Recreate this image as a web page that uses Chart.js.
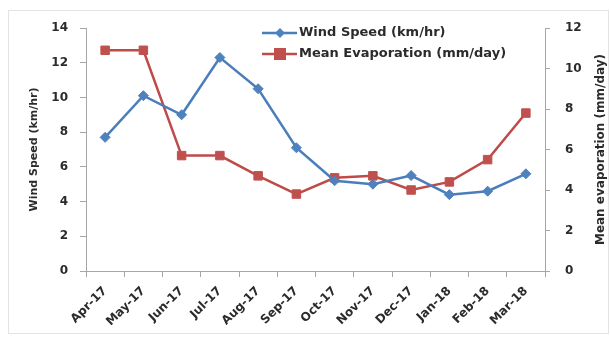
<!DOCTYPE html>
<html>
<head>
<meta charset="utf-8">
<title>Wind speed and evaporation</title>
<script src="https://cdn.jsdelivr.net/npm/chart.js@4.4.1/dist/chart.umd.min.js"></script>
<style>
  body { margin: 0; background: #fff; }
  #wrap { width: 610px; height: 338px; }
</style>
</head>
<body>
<div id="wrap"><canvas id="lineChart" width="610" height="338"></canvas></div>
<script>
// monthly data, Apr-17 to Mar-18
const months = ['Apr-17', 'May-17', 'Jun-17', 'Jul-17', 'Aug-17', 'Sep-17',
                'Oct-17', 'Nov-17', 'Dec-17', 'Jan-18', 'Feb-18', 'Mar-18'];
const windSpeed = [7.7, 10.1, 9.0, 12.3, 10.5, 7.1, 5.2, 5.0, 5.5, 4.4, 4.6, 5.6];
const evaporation = [10.9, 10.9, 5.7, 5.7, 4.7, 3.8, 4.6, 4.7, 4.0, 4.4, 5.5, 7.8];
const windTicks = [0, 2, 4, 6, 8, 10, 12, 14];
const evapTicks = [0, 2, 4, 6, 8, 10, 12];

const blue = '#4F81BD';
const red = '#C0504D';
const axisGrey = '#a6a6a6';
const textColor = '#2b2b2b';
const font = "'DejaVu Sans', sans-serif";

// light frame around the whole chart
const framePlugin = {
    id: 'frame',
    beforeDraw(chart) {
        const c = chart.ctx;
        c.save();
        c.fillStyle = '#fff';
        c.fillRect(0, 0, chart.width, chart.height);
        c.strokeStyle = '#e3e3e3';
        c.lineWidth = 1;
        c.strokeRect(8.5, 10.5, 600, 323);
        c.restore();
    }
};

function drawMarker(c, style, x, y, r, color) {
    c.fillStyle = color;
    c.beginPath();
    if (style === 'rect') {
        c.rect(x - r, y - r, r * 2, r * 2);
    } else {
        c.moveTo(x, y - r);
        c.lineTo(x + r, y);
        c.lineTo(x, y + r);
        c.lineTo(x - r, y);
        c.closePath();
    }
    c.fill();
}

// legend sits inside the plot area, plus right axis title reading upwards
const overlayPlugin = {
    id: 'overlay',
    afterDraw(chart) {
        const c = chart.ctx;
        c.save();
        chart.data.datasets.forEach((ds, i) => {
            const y = 33 + i * 21;
            c.strokeStyle = ds.borderColor;
            c.lineWidth = 2.5;
            c.beginPath();
            c.moveTo(262, y);
            c.lineTo(297, y);
            c.stroke();
            drawMarker(c, ds.pointStyle, 280, y, ds.pointRadius, ds.pointBackgroundColor);
            c.fillStyle = textColor;
            c.font = 'bold 13px ' + font;
            c.textAlign = 'left';
            c.textBaseline = 'middle';
            c.fillText(ds.label, 299, y);
        });

        const y1 = chart.scales.y1;
        c.translate(601, (y1.top + y1.bottom) / 2);
        c.rotate(-Math.PI / 2);
        c.fillStyle = textColor;
        c.font = 'bold 12px ' + font;
        c.textAlign = 'center';
        c.textBaseline = 'middle';
        c.fillText('Mean evaporation (mm/day)', 0, 0);
        c.restore();
    }
};

const ctx = document.getElementById('lineChart').getContext('2d');
new Chart(ctx, {
    type: 'line',
    data: {
        labels: months,
        datasets: [
            {
                label: 'Wind Speed (km/hr)',
                data: windSpeed,
                yAxisID: 'y',
                borderColor: '#4A7EBB',
                borderWidth: 2.5,
                pointStyle: 'rectRot',
                pointRadius: 5,
                pointBackgroundColor: blue,
                pointBorderColor: blue,
                pointBorderWidth: 1,
                tension: 0
            },
            {
                label: 'Mean Evaporation (mm/day)',
                data: evaporation,
                yAxisID: 'y1',
                borderColor: '#BE4B48',
                borderWidth: 2.5,
                pointStyle: 'rect',
                pointRadius: 6,
                pointBackgroundColor: red,
                pointBorderColor: red,
                pointBorderWidth: 1,
                tension: 0
            }
        ]
    },
    options: {
        responsive: false,
        animation: false,
        layout: { padding: { left: 8, right: 0, top: 28, bottom: 5 } },
        plugins: {
            legend: { display: false },
            tooltip: { enabled: false }
        },
        scales: {
            x: {
                offset: true,
                grid: { offset: true, drawOnChartArea: false, tickLength: 6, color: axisGrey },
                border: { color: axisGrey, width: 1 },
                ticks: {
                    minRotation: 45,
                    maxRotation: 45,
                    padding: 7,
                    color: textColor,
                    font: { family: font, size: 12, weight: 'bold' }
                },
                afterFit: (scale) => { scale.height = 62; }
            },
            y: {
                position: 'left',
                min: 0,
                max: 14,
                afterBuildTicks: (scale) => { scale.ticks = windTicks.map(v => ({ value: v })); },
                grid: { drawOnChartArea: false, tickLength: 6, color: axisGrey },
                border: { color: axisGrey, width: 1 },
                ticks: {
                    padding: 12,
                    color: textColor,
                    font: { family: font, size: 12, weight: 'bold' }
                },
                title: {
                    display: true,
                    text: 'Wind Speed (km/hr)',
                    color: textColor,
                    font: { family: font, size: 11, weight: 'bold' },
                    padding: { top: 20, bottom: 0 }
                },
                afterFit: (scale) => { scale.width = 78; }
            },
            y1: {
                position: 'right',
                min: 0,
                max: 12,
                afterBuildTicks: (scale) => { scale.ticks = evapTicks.map(v => ({ value: v })); },
                grid: { drawOnChartArea: false, tickLength: 5, color: axisGrey },
                border: { color: axisGrey, width: 1 },
                ticks: {
                    padding: 15,
                    color: textColor,
                    font: { family: font, size: 12, weight: 'bold' }
                },
                afterFit: (scale) => { scale.width = 65; }
            }
        }
    },
    plugins: [framePlugin, overlayPlugin]
});
</script>
</body>
</html>
